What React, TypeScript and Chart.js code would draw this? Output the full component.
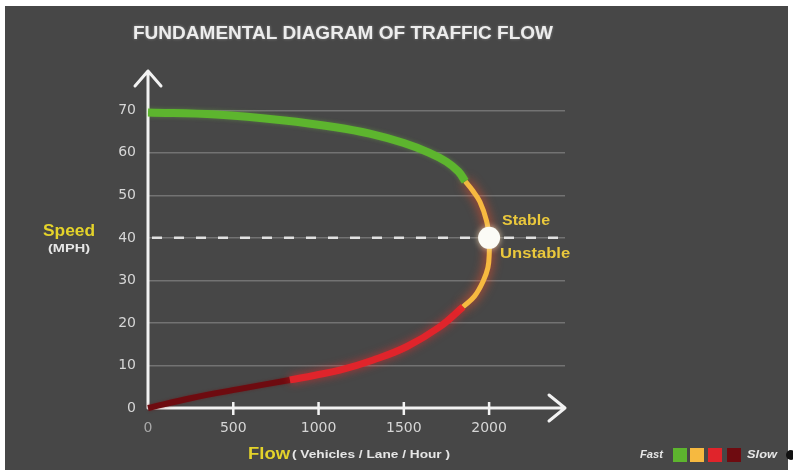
import { useEffect, useRef } from 'react';
import { Chart, registerables } from 'chart.js';

Chart.register(...registerables);

// Speed–flow relationship, split into the four traffic regimes (fast → slow).
const fastFlow = [0, 400, 800, 1100, 1300, 1500, 1650, 1750, 1820, 1860];
const fastSpeed = [69.5, 69.0, 67.6, 66.0, 64.5, 62.3, 60.0, 57.9, 55.6, 53.3];

const capacityFlow = [1860, 1900, 1946, 1985, 2000, 2001, 1993, 1965, 1915, 1848];
const capacitySpeed = [53.3, 51.3, 48.5, 44.0, 40.0, 36.5, 33.0, 29.8, 26.3, 23.8];

const congestedFlow = [1848, 1711, 1516, 1321, 1125, 980, 832];
const congestedSpeed = [23.8, 19.1, 14.4, 11.3, 8.9, 7.7, 6.6];

const jammedFlow = [832, 540, 250, 0];
const jammedSpeed = [6.6, 4.5, 2.3, 0];

// Capacity point separating stable and unstable flow
const criticalFlow = [2000];
const criticalSpeed = [40];

const flowTicks = [0, 500, 1000, 1500, 2000];
const speedTicks = [0, 10, 20, 30, 40, 50, 60, 70];

const regimes = [
  { label: 'Fast', flow: fastFlow, speed: fastSpeed, color: '#5db52e', width: 8, glow: 'rgba(120,210,70,0.35)', blur: 4 },
  { label: 'Capacity', flow: capacityFlow, speed: capacitySpeed, color: '#f6b940', width: 5, glow: 'rgba(255,80,40,0.95)', blur: 11 },
  { label: 'Congested', flow: congestedFlow, speed: congestedSpeed, color: '#e0242b', width: 7, glow: 'rgba(255,40,40,0.6)', blur: 8 },
  { label: 'Slow', flow: jammedFlow, speed: jammedSpeed, color: '#6e0b10', width: 6, glow: 'rgba(120,0,0,0.4)', blur: 3 },
];

const YELLOW = '#e4d32a';
const LABEL_GOLD = '#eac83c';
const TEXT = '#e6e6e6';

function drawText(
  ctx: CanvasRenderingContext2D,
  text: string,
  x: number,
  y: number,
  font: string,
  color: string,
  align: 'left' | 'center' | 'right',
  width?: number,
) {
  ctx.save();
  ctx.font = font;
  ctx.fillStyle = color;
  ctx.textBaseline = 'middle';
  ctx.textAlign = 'left';
  const w = ctx.measureText(text).width;
  const sx = width ? width / w : 1;
  const drawn = w * sx;
  const left = align === 'center' ? x - drawn / 2 : align === 'right' ? x - drawn : x;
  ctx.translate(left, y);
  ctx.scale(sx, 1);
  ctx.fillText(text, 0, 0);
  ctx.restore();
}

const decorations = {
  id: 'decorations',
  beforeDraw(chart: any) {
    const { ctx, width, height } = chart;
    ctx.save();
    ctx.fillStyle = '#ffffff';
    ctx.fillRect(0, 0, width, height);
    ctx.fillStyle = '#474747';
    ctx.fillRect(5, 6, 783, height - 6);
    ctx.restore();
  },
  beforeDatasetsDraw(chart: any) {
    const { ctx, chartArea, scales } = chart;
    const { left, right, top, bottom } = chartArea;
    ctx.save();

    // dashed reference line at the critical speed
    const yc = scales.y.getPixelForValue(criticalSpeed[0]);
    ctx.strokeStyle = 'rgba(236,236,236,0.92)';
    ctx.lineWidth = 2.5;
    ctx.setLineDash([10, 12]);
    ctx.beginPath();
    ctx.moveTo(left + 4, yc);
    ctx.lineTo(right, yc);
    ctx.stroke();
    ctx.setLineDash([]);

    // axes with arrow heads
    ctx.strokeStyle = '#f2f2f2';
    ctx.lineWidth = 3;
    ctx.lineCap = 'round';
    ctx.lineJoin = 'round';
    ctx.beginPath();
    ctx.moveTo(left, bottom);
    ctx.lineTo(left, top - 1);
    ctx.moveTo(left - 13, top + 14);
    ctx.lineTo(left, top - 1);
    ctx.lineTo(left + 13, top + 14);
    ctx.moveTo(left, bottom);
    ctx.lineTo(right, bottom);
    ctx.moveTo(right - 16, bottom - 13);
    ctx.lineTo(right, bottom);
    ctx.lineTo(right - 16, bottom + 13);
    ctx.stroke();

    // tick marks across the flow axis
    ctx.lineWidth = 2.5;
    ctx.lineCap = 'butt';
    ctx.beginPath();
    scales.x.ticks.forEach((t: any) => {
      if (t.value <= 0) return;
      const px = scales.x.getPixelForValue(t.value);
      ctx.moveTo(px, bottom - 6);
      ctx.lineTo(px, bottom + 7);
    });
    ctx.stroke();
    ctx.restore();
  },
  beforeDatasetDraw(chart: any, args: any) {
    const ds = chart.data.datasets[args.index];
    const ctx = chart.ctx;
    ctx.save();
    ctx.shadowColor = ds.glowColor || 'transparent';
    ctx.shadowBlur = ds.glowBlur || 0;
  },
  afterDatasetDraw(chart: any) {
    chart.ctx.restore();
  },
  afterDraw(chart: any) {
    const { ctx, scales } = chart;
    const bold = (s: number) => `bold ${s}px "Liberation Sans", Arial, sans-serif`;

    // title
    ctx.save();
    ctx.shadowColor = 'rgba(255,255,255,0.35)';
    ctx.shadowBlur = 3;
    drawText(ctx, 'FUNDAMENTAL DIAGRAM OF TRAFFIC FLOW', 343, 34, bold(18), '#ededed', 'center', 420);
    ctx.restore();

    // axis titles
    drawText(ctx, 'Speed', 69, 232, bold(16), YELLOW, 'center', 52);
    drawText(ctx, '(MPH)', 69, 249, bold(10), TEXT, 'center', 42);
    drawText(ctx, 'Flow', 248, 455, bold(16), YELLOW, 'left', 42);
    drawText(ctx, '( Vehicles / Lane / Hour )', 292, 455, bold(11), TEXT, 'left', 158);

    // regime labels beside the capacity point
    const cx = scales.x.getPixelForValue(criticalFlow[0]);
    const cy = scales.y.getPixelForValue(criticalSpeed[0]);
    drawText(ctx, 'Stable', cx + 13, cy - 17, bold(15), LABEL_GOLD, 'left', 48);
    drawText(ctx, 'Unstable', cx + 11, cy + 16, bold(15), LABEL_GOLD, 'left', 70);

    // fast → slow colour key
    const italic = 'italic bold 11px "Liberation Sans", Arial, sans-serif';
    drawText(ctx, 'Fast', 640, 455, italic, TEXT, 'left', 23);
    const keyX = [673, 690, 708, 727];
    regimes.forEach((r, i) => {
      ctx.fillStyle = r.color;
      ctx.fillRect(keyX[i], 448, 14, 14);
    });
    drawText(ctx, 'Slow', 747, 455, italic, TEXT, 'left', 30);

    ctx.save();
    ctx.fillStyle = '#111111';
    ctx.beginPath();
    ctx.arc(791, 455, 5, 0, Math.PI * 2);
    ctx.fill();
    ctx.restore();
  },
};

export default function App() {
  const canvasRef = useRef<HTMLCanvasElement | null>(null);

  useEffect(() => {
    const canvas = canvasRef.current;
    if (!canvas) return;

    const datasets: any[] = regimes.map((r, i) => ({
      label: r.label,
      data: r.flow.map((x, k) => ({ x, y: r.speed[k] })),
      showLine: true,
      borderColor: r.color,
      backgroundColor: r.color,
      borderWidth: r.width,
      borderCapStyle: 'butt',
      pointRadius: 0,
      pointHoverRadius: 0,
      tension: 0.4,
      fill: false,
      clip: false,
      order: i + 1,
      glowColor: r.glow,
      glowBlur: r.blur,
    }));
    datasets.push({
      label: 'Critical',
      data: criticalFlow.map((x, k) => ({ x, y: criticalSpeed[k] })),
      showLine: false,
      pointRadius: 11,
      pointHoverRadius: 11,
      pointBackgroundColor: '#fbfbf6',
      pointBorderWidth: 0,
      clip: false,
      order: 0,
      glowColor: 'rgba(255,240,200,0.7)',
      glowBlur: 6,
    });

    const tickFont = { family: '"DejaVu Sans", sans-serif', size: 14 };
    const tickColor = (c: any) => (c.tick && c.tick.value === 0 ? '#a8a8a8' : '#d6d6d6');

    const chart = new Chart(canvas, {
      type: 'scatter',
      data: { datasets },
      options: {
        responsive: false,
        animation: false,
        devicePixelRatio: 1,
        events: [],
        layout: { padding: { left: 0, right: 228, top: 72, bottom: 0 } },
        plugins: {
          legend: { display: false },
          tooltip: { enabled: false },
          title: { display: false },
        },
        scales: {
          x: {
            type: 'linear',
            min: 0,
            max: 2445,
            afterBuildTicks: (s: any) => {
              s.ticks = flowTicks.map((v) => ({ value: v }));
            },
            afterFit: (s: any) => {
              s.height = 62;
            },
            grid: { display: true, drawOnChartArea: false, drawTicks: false },
            border: { display: false },
            ticks: {
              color: tickColor,
              font: tickFont,
              padding: 12,
              maxRotation: 0,
              callback: (v: any) => String(v),
            },
          },
          y: {
            type: 'linear',
            min: 0,
            max: 79,
            afterBuildTicks: (s: any) => {
              s.ticks = speedTicks.map((v) => ({ value: v }));
            },
            afterFit: (s: any) => {
              s.width = 148;
            },
            grid: {
              color: (c: any) => (c.tick && c.tick.value === 0 ? 'rgba(0,0,0,0)' : 'rgba(255,255,255,0.24)'),
              lineWidth: 1.5,
              drawTicks: false,
            },
            border: { display: false },
            ticks: { color: '#d6d6d6', font: tickFont, padding: 12, callback: (v: any) => String(v) },
          },
        },
      } as any,
      plugins: [decorations],
    });

    return () => chart.destroy();
  }, []);

  return (
    <div style={{ position: 'fixed', left: 0, top: 0, width: 793, height: 470 }}>
      <canvas ref={canvasRef} width={793} height={470} style={{ display: 'block', width: 793, height: 470 }} />
    </div>
  );
}
